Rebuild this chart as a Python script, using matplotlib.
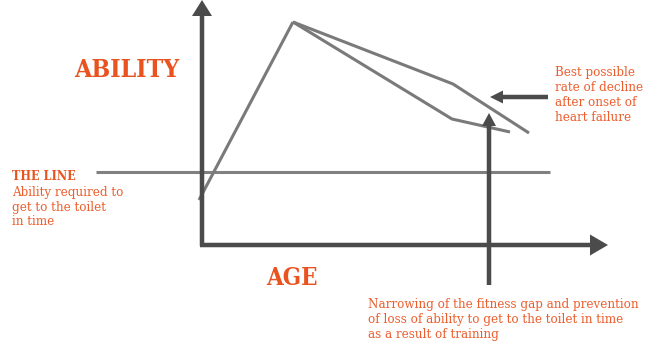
import matplotlib
matplotlib.use("Agg")
import matplotlib.pyplot as plt

# ---- schematic data (age vs ability, origin at axes corner) ----
rise_age = [-3, 91]
rise_ability = [45, 223]
decline_typical_age = [91, 251, 327]
decline_typical_ability = [223, 161, 112]
decline_trained_age = [91, 250, 308]
decline_trained_ability = [223, 126, 113]
threshold_ability = 73
threshold_age_range = [-106, 348]
intervention_age = 287

label_y = "ABILITY"
label_x = "AGE"
line_title = "THE LINE"
line_desc = "Ability required to\nget to the toilet\nin time"
decline_note = "Best possible\nrate of decline\nafter onset of\nheart failure"
training_note = ("Narrowing of the fitness gap and prevention\n"
                 "of loss of ability to get to the toilet in time\n"
                 "as a result of training")

W, H = 667, 349
ox, oy = 202, 245  # pixel position of origin

fig = plt.figure(figsize=(W / 100, H / 100), dpi=100)
ax = fig.add_axes([0, 0, 1, 1])
ax.set_xlim(-ox, W - ox)
ax.set_ylim(oy - H, oy)
ax.axis("off")

axis_c = "#4b4b4b"
curve_c = "#7a7a7a"
orange = "#E8531F"
orange_t = "#EC5E2E"

# threshold line
ax.plot(threshold_age_range, [threshold_ability] * 2, color="#808080", lw=2.2,
        solid_capstyle="butt", zorder=1)

# curves
ax.plot(rise_age, rise_ability, color=curve_c, lw=2.2, solid_capstyle="butt", zorder=2)
ax.plot(decline_typical_age, decline_typical_ability, color=curve_c, lw=2.2,
        solid_joinstyle="miter", solid_capstyle="butt", zorder=2)
ax.plot(decline_trained_age, decline_trained_ability, color=curve_c, lw=2.2,
        solid_joinstyle="miter", solid_capstyle="butt", zorder=2)

# axes arrows
ax.arrow(0, -1, 0, 246, width=4.5, head_width=20, head_length=16,
         length_includes_head=True, color=axis_c, lw=0, zorder=3)
ax.arrow(-2, 0, 408, 0, width=4.5, head_width=21, head_length=18,
         length_includes_head=True, color=axis_c, lw=0, zorder=3)

# intervention arrow (vertical)
ax.arrow(intervention_age, -40, 0, 172, width=4.5, head_width=14, head_length=13,
         length_includes_head=True, color=axis_c, lw=0, zorder=3)
# pointer arrow (horizontal)
ax.arrow(346, 148, -58, 0, width=4.5, head_width=13, head_length=13,
         length_includes_head=True, color=axis_c, lw=0, zorder=3)

serif = ["DejaVu Serif"]

ax.text(74 - ox, oy - 77, label_y, color=orange, fontsize=17.8, fontweight="bold",
        family=serif, fontstretch="condensed", va="baseline", ha="left")
ax.text(266 - ox, oy - 285, label_x, color=orange, fontsize=17.2, fontweight="bold",
        family=serif, fontstretch="condensed", va="baseline", ha="left")
ax.text(12 - ox, oy - 180, line_title, color=orange, fontsize=9, fontweight="bold",
        family=serif, fontstretch="condensed", va="baseline", ha="left")
ax.text(12 - ox, oy - 186, line_desc, color=orange_t, fontsize=9.5,
        family=serif, fontstretch="condensed", va="top", ha="left", linespacing=1.15)
ax.text(555 - ox, oy - 66, decline_note, color=orange_t, fontsize=9.5,
        family=serif, fontstretch="condensed", va="top", ha="left", linespacing=1.2)
ax.text(368 - ox, oy - 298, training_note, color=orange_t, fontsize=9.5,
        family=serif, fontstretch="condensed", va="top", ha="left", linespacing=1.18)

fig.savefig("out.png", dpi=100)
